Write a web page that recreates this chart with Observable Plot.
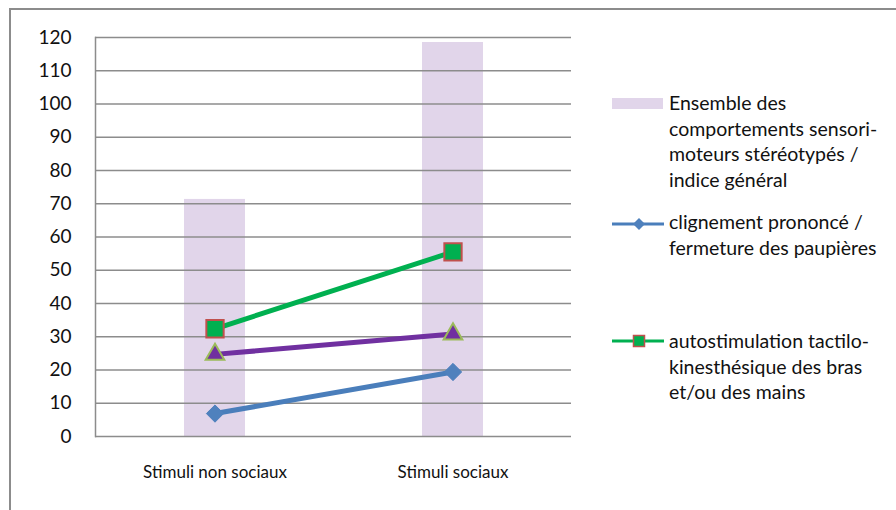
<!DOCTYPE html>
<html>
<head>
<meta charset="utf-8">
<script src="https://cdn.jsdelivr.net/npm/d3@7"></script>
<script src="https://cdn.jsdelivr.net/npm/@observablehq/plot@0.6"></script>
<style>
  html, body { margin: 0; padding: 0; background: #fff; }
  #wrap { position: relative; width: 896px; height: 510px; overflow: hidden; font-family: Lato, "Open Sans", sans-serif; }
  #frame { position: absolute; left: 9px; top: 8px; width: 900px; height: 520px; border: 2px solid #8c8c8c; box-sizing: border-box; }
  #chart { position: absolute; left: 0; top: 0; }
  .leg { position: absolute; font-size: 19.5px; line-height: 25.7px; color: #111; white-space: pre; }
  .mk { position: absolute; }
</style>
</head>
<body>
<div id="wrap">
  <div id="frame"></div>
  <div id="chart"></div>
  <svg class="mk" style="left:610px;top:95px" width="56" height="16"><rect x="2" y="3" width="51" height="11" fill="#e1d5ea"/></svg>
  <div class="leg" style="left:669px;top:90px">Ensemble des
comportements sensori-
moteurs stéréotypés /
indice général</div>
  <svg class="mk" style="left:610px;top:214px" width="56" height="20"><line x1="2" x2="54" y1="10" y2="10" stroke="#4a7ebb" stroke-width="3"/><path d="M29,4 L35,10 L29,16 L23,10 Z" fill="#4f81bd"/></svg>
  <div class="leg" style="left:669px;top:209px">clignement prononcé /
fermeture des paupières</div>
  <svg class="mk" style="left:610px;top:331px" width="56" height="20"><line x1="2" x2="54" y1="10" y2="10" stroke="#00b050" stroke-width="3"/><rect x="23.5" y="4.5" width="11" height="11" fill="#00b050" stroke="#c0504d" stroke-width="1.5"/></svg>
  <div class="leg" style="left:669px;top:328px">autostimulation tactilo-
kinesthésique des bras
et/ou des mains</div>
</div>
<script>
const categories = ["Stimuli non sociaux", "Stimuli sociaux"];
const ensemble = [71.3, 118.5];
const clignement = [6.9, 19.4];
const autostimulation = [32.4, 55.5];
const autreSerie = [24.7, 30.8];
const yTicks = [0, 10, 20, 30, 40, 50, 60, 70, 80, 90, 100, 110, 120];

const bars = categories.map((c, i) => ({cat: c, v: ensemble[i]}));
const blue = categories.map((c, i) => ({cat: c, v: clignement[i]}));
const green = categories.map((c, i) => ({cat: c, v: autostimulation[i]}));
const purple = categories.map((c, i) => ({cat: c, v: autreSerie[i]}));

const r = (area) => Math.sqrt(area / Math.PI);

const chart = Plot.plot({
  width: 600,
  height: 510,
  marginLeft: 95,
  marginRight: 29,
  marginTop: 37,
  marginBottom: 74,
  style: {fontFamily: "Lato, 'Open Sans', sans-serif", fontSize: "16px", color: "#111", background: "transparent"},
  x: {type: "band", domain: categories, paddingInner: 0.744, paddingOuter: 0.372, label: null},
  y: {domain: [0, 120], label: null},
  marks: [
    Plot.barY(bars, {x: "cat", y: "v", fill: "#e1d5ea"}),
    Plot.ruleY(yTicks, {stroke: "#8c8c8c", strokeWidth: 1.5}),
    Plot.frame({anchor: "left", stroke: "#8c8c8c", strokeWidth: 1.5}),
    Plot.axisY(yTicks, {tickSize: 0, tickPadding: 24, label: null, fontSize: 19}),
    Plot.axisX({tickSize: 0, tickPadding: 29, label: null, fontSize: 17}),
    Plot.line(blue, {x: "cat", y: "v", stroke: "#4a7ebb", strokeWidth: 5}),
    Plot.line(purple, {x: "cat", y: "v", stroke: "#7030a0", strokeWidth: 5}),
    Plot.line(green, {x: "cat", y: "v", stroke: "#00b050", strokeWidth: 5}),
    Plot.dot(blue, {x: "cat", y: "v", symbol: "diamond2", r: r(190), fill: "#4f81bd", stroke: "#4f81bd", strokeWidth: 1}),
    Plot.dot(purple, {x: "cat", y: "v", symbol: "triangle", r: r(150), fill: "#7030a0", stroke: "#9bbb59", strokeWidth: 2}),
    Plot.dot(green, {x: "cat", y: "v", symbol: "square", r: r(300), fill: "#00b050", stroke: "#c0504d", strokeWidth: 2})
  ]
});
document.getElementById("chart").appendChild(chart);
</script>
</body>
</html>
